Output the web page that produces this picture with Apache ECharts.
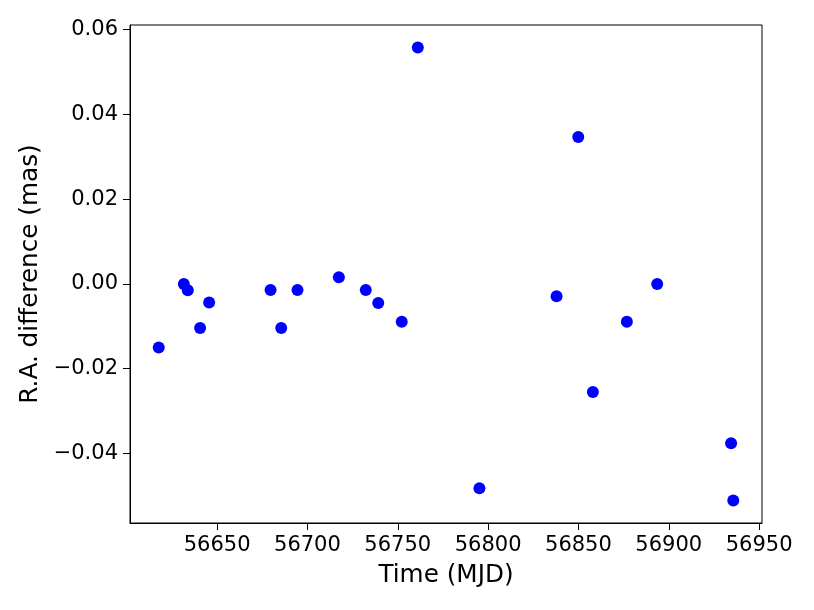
<!DOCTYPE html>
<html>
<head>
<meta charset="utf-8">
<script src="https://cdn.jsdelivr.net/npm/echarts@6/dist/echarts.min.js"></script>
<style>html,body{margin:0;padding:0;background:#fff}#c{width:814px;height:610px}</style>
</head>
<body>
<div id="c"></div>
<script>
// Data
const timeMJD = [56617.7, 56631.6, 56633.8, 56640.6, 56645.6, 56679.6, 56685.5, 56694.5, 56717.4, 56732.3, 56739.2, 56752.2, 56761.1, 56795.2, 56837.9, 56849.9, 56858.0, 56876.8, 56893.6, 56934.5, 56935.7];
const raDiff = [-0.0150, 0.0000, -0.0015, -0.0104, -0.0044, -0.0014, -0.0104, -0.0014, 0.0016, -0.0014, -0.0045, -0.0089, 0.0558, -0.0482, -0.0029, 0.0347, -0.0255, -0.0089, 0.0000, -0.0376, -0.0511];
const xTicks = [56650, 56700, 56750, 56800, 56850, 56900, 56950];
const yTicks = [-0.04, -0.02, 0.00, 0.02, 0.04, 0.06];

const points = timeMJD.map((t, i) => [t, raDiff[i]]);
const font = "DejaVu Sans";
const chart = echarts.init(document.getElementById('c'), null, {renderer: 'canvas'});
chart.setOption({
  animation: false,
  backgroundColor: '#ffffff',
  grid: {left: 130, right: 52, top: 25, bottom: 87, show: true, borderColor: '#000', borderWidth: 1, backgroundColor: 'transparent'},
  xAxis: {
    type: 'value', min: 56601.8, max: 56951.6,
    splitLine: {show: false},
    axisLine: {show: true, onZero: false, lineStyle: {color: '#000', width: 1}},
    axisTick: {show: true, length: 7, inside: false, lineStyle: {color: '#000'}, customValues: xTicks},
    axisLabel: {customValues: xTicks, color: '#000', fontSize: 21, fontFamily: font, margin: 12, formatter: v => String(Math.round(v))},
    name: 'Time (MJD)', nameLocation: 'middle', nameGap: 40,
    nameTextStyle: {color: '#000', fontSize: 24.7, fontFamily: font}
  },
  yAxis: {
    type: 'value', min: -0.0564, max: 0.0611,
    splitLine: {show: false},
    axisLine: {show: true, onZero: false, lineStyle: {color: '#000', width: 1}},
    axisTick: {show: true, length: 7, inside: false, lineStyle: {color: '#000'}, customValues: yTicks},
    axisLabel: {customValues: yTicks, color: '#000', fontSize: 21, fontFamily: font, margin: 12,
      formatter: v => (v < -1e-9 ? '\u2212' : '') + Math.abs(v).toFixed(2)},
    name: 'R.A. difference (mas)', nameLocation: 'middle', nameGap: 86, nameRotate: 90,
    nameTextStyle: {color: '#000', fontSize: 24.7, fontFamily: font}
  },
  series: [{
    type: 'scatter', data: points, symbol: 'circle', symbolSize: 12,
    itemStyle: {color: '#0000ff', opacity: 1}
  }]
});
</script>
</body>
</html>
